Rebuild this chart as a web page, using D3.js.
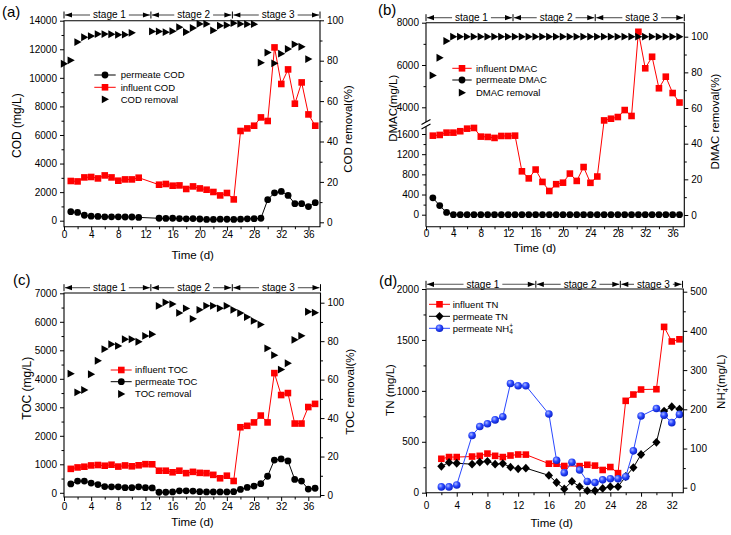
<!DOCTYPE html>
<html><head><meta charset="utf-8">
<script src="https://cdn.jsdelivr.net/npm/d3@7"></script>
<style>
body{margin:0;background:#fff;}
svg{display:block;font-family:"Liberation Sans",Arial,Helvetica,sans-serif;}
</style></head><body>
<svg id="chart" width="731" height="535"></svg>
<script>
// ---------------- DATA ----------------
// (a) COD
const codDays = [1,2,3,4,5,6,7,8,9,10,11,14,15,16,17,18,19,20,21,22,23,24,25,26,27,28,29,30,31,32,33,34,35,36,37];
const codInfluent = [2780,2750,3030,3060,2960,3170,3030,2800,2890,2890,3010,2520,2570,2450,2470,2220,2400,2260,2170,2010,1770,1940,1490,6280,6460,6650,7230,6980,12130,9570,10590,8190,9680,7440,6650];
const codPermeate = [630,580,380,320,300,270,270,270,260,260,230,170,160,170,150,130,150,120,90,90,110,100,90,110,130,140,170,1470,1950,2050,1770,1190,1190,990,1260];
const codRemovalDays = [0,1,2,3,4,5,6,7,8,9,10,13,14,15,16,17,18,19,20,21,22,23,24,25,26,27,28,29,30,31,32,33,34,35,36];
const codRemoval = [78.5,80.2,89.2,91.6,92.2,93.2,93.2,93.1,92.8,92.9,93.8,94.5,94.5,94.1,94.6,96.6,94.2,96.2,98.2,98.2,95.0,97.3,97.6,98.6,98.2,98.1,98.1,79.0,84.0,78.7,83.5,85.8,88.1,86.9,80.8];

// (b) DMAC
const dmacDays = [1,2,3,4,5,6,7,8,9,10,11,12,13,14,15,16,17,18,19,20,21,22,23,24,25,26,27,28,29,30,31,32,33,34,35,36,37];
const dmacInfluent = [1567,1581,1627,1627,1655,1706,1720,1548,1542,1522,1561,1561,1567,860,720,895,650,470,605,635,815,670,945,632,757,3380,3460,3540,3870,3590,7570,5845,6390,4900,5447,4675,4225];
const dmacPermeate = [335,180,45,0,0,0,0,0,0,0,0,0,0,0,0,0,0,0,0,0,0,0,0,0,0,0,0,0,0,0,0,0,0,0,0,0,0];
const dmacRemoval = [78.3,88.2,97.6,100,100,100,100,100,100,100,100,100,100,100,100,100,100,100,100,100,100,100,100,100,100,100,100,100,100,100,100,100,100,100,100,100,100];

// (c) TOC
const tocDays = [1,2,3,4,5,6,7,8,9,10,11,12,13,14,15,16,17,18,19,20,21,22,23,24,25,26,27,28,29,30,31,32,33,34,35,36,37];
const tocInfluent = [840,890,915,960,975,950,985,920,960,930,965,1005,1000,775,775,720,775,690,735,700,690,630,510,600,415,2300,2350,2470,2710,2470,4200,3430,3500,2430,2430,3010,3120];
const tocPermeate = [310,410,410,340,290,220,210,210,180,180,210,180,170,20,20,30,70,70,60,40,30,30,30,30,40,120,190,235,320,580,1150,1190,1120,470,410,130,160];
const tocRemoval = [63.1,53.4,54.6,62.8,69.8,75.9,78.4,77.5,81.0,81.0,79.7,82.7,83.6,98.3,100.2,99.3,94.7,97.0,91.6,96.3,98.4,98.4,97.1,98.3,96.3,94.6,92.5,90.5,88.6,76.3,72.7,65.2,68.5,80.7,82.8,95.3,94.8];

// (d) TN / NH4+
const tnInfDays = [2,3,4,6,7,8,9,10,11,12,13,16,17,18,20,21,22,23,24,25,26,27,28,30,31,32,33];
const tnInfluent = [333,350,350,355,362,384,362,350,365,375,374,285,285,262,261,274,266,223,252,192,902,964,1013,1016,1628,1485,1506];
const tnDays = [2,3,4,6,7,8,9,10,11,12,13,16,17,18,19,20,21,22,23,24,25,26,27,28,30,31,32,33];
const tnPermeate = [259,297,289,280,300,308,280,286,251,234,241,170,100,37,111,59,20,20,42,59,59,159,247,375,495,801,844,821];
const nh4Permeate = [2,2,7,133,156,163,173,181,266,260,260,188,70,38,65,45,16,13,20,23,23,28,94,183,202,185,166,187];

// tick values
const xTicks37 = [0,4,8,12,16,20,24,28,32,36];
const xMinor37 = [2,6,10,14,18,22,26,30,34];
const xTicks33 = [0,4,8,12,16,20,24,28,32];
const xMinor33 = [2,6,10,14,18,22,26,30];
const codTicks = [0,2000,4000,6000,8000,10000,12000,14000];
const codMinor = [1000,3000,5000,7000,9000,11000,13000];
const pctTicks = [0,20,40,60,80,100];
const pctMinor = [10,30,50,70,90];
const dmacLowTicks = [0,400,800,1200,1600];
const dmacLowMinor = [200,600,1000,1400];
const dmacHighTicks = [4000,6000,8000];
const dmacHighMinor = [5000,7000];
const tocTicks = [0,1000,2000,3000,4000,5000,6000,7000];
const tocMinor = [500,1500,2500,3500,4500,5500,6500];
const tnTicks = [0,500,1000,1500,2000];
const tnMinor = [250,750,1250,1750];
const nh4Ticks = [0,100,200,300,400,500];
const nh4Minor = [50,150,250,350,450];
const stageNames = ["stage 1","stage 2","stage 3"];
const stagesA = [0,12.8,24.8,37.7];
const stagesB = [0,12.7,24.7,37.7];
const stagesC = [0,12.8,24.8,37.8];
const stagesD = [0,14.3,25.3,33.4];

// ---------------- HELPERS ----------------
const FONT = '"Liberation Sans", Arial, Helvetica, sans-serif';
const svg = d3.select('#chart');
const defs = svg.append('defs');
const grad = defs.append('radialGradient').attr('id','blueBall').attr('cx','38%').attr('cy','35%').attr('r','65%');
grad.append('stop').attr('offset','0%').attr('stop-color','#aab8ff');
grad.append('stop').attr('offset','50%').attr('stop-color','#2a48ff');
grad.append('stop').attr('offset','100%').attr('stop-color','#0c22c8');

const RED = '#ff0000', BLUE = '#2a48ff';
const TICK_FS = 10;

function frame(g, b, skipLeft) {
  const d = skipLeft ? `M${b.l},${b.t}H${b.r}V${b.b}H${b.l}` : `M${b.l},${b.t}H${b.r}V${b.b}H${b.l}Z`;
  g.append('path').attr('d', d).attr('fill','none').attr('stroke','#000').attr('stroke-width',1.1);
}
function axis(g, kind, scale, pos, majors, minors, labelOffset) {
  const gen = kind==='bottom'?d3.axisBottom:kind==='left'?d3.axisLeft:d3.axisRight;
  const tr = kind==='bottom'?`translate(0,${pos})`:`translate(${pos},0)`;
  const gMaj = g.append('g').attr('transform',tr).call(gen(scale).tickValues(majors).tickSize(4).tickPadding(3).tickFormat(d3.format('d')));
  const gMin = g.append('g').attr('transform',tr).call(gen(scale).tickValues(minors).tickSize(2.5).tickFormat(''));
  [gMaj,gMin].forEach(s=>{
    s.select('.domain').remove();
    s.attr('font-family',FONT).attr('font-size',TICK_FS);
    s.selectAll('line').attr('stroke','#000').attr('stroke-width',1);
    s.selectAll('text').attr('fill','#000');
  });
  if (kind==='bottom' && labelOffset!=null) gMaj.selectAll('text').attr('y',labelOffset).attr('dy','0.36em');
  return gMaj;
}
function seriesLine(g, xs, yf, days, vals, color) {
  g.append('path').datum(days.map((d,i)=>[d,vals[i]]))
    .attr('fill','none').attr('stroke',color).attr('stroke-width',1)
    .attr('d', d3.line().x(d=>xs(d[0])).y(d=>yf(d[1])));
}
const SHAPES = {
  square: 'M-3.3,-3.3H3.3V3.3H-3.3Z',
  tri: 'M-3.2,-3.9L4,0L-3.2,3.9Z',
  diamond: 'M0,-4.4L4.1,0L0,4.4L-4.1,0Z'
};
function drawMarker(g, x, y, shape, fill) {
  if (shape==='circle') g.append('circle').attr('cx',x).attr('cy',y).attr('r',3.4).attr('fill',fill);
  else if (shape==='ball') g.append('circle').attr('cx',x).attr('cy',y).attr('r',3.8).attr('fill','url(#blueBall)');
  else g.append('path').attr('d',SHAPES[shape]).attr('transform',`translate(${x},${y})`).attr('fill',fill);
}
function seriesMarkers(g, xs, yf, days, vals, shape, fill) {
  days.forEach((d,i)=>drawMarker(g, xs(d), yf(vals[i]), shape, fill));
}
function legendRow(g, lx0, lx1, mx, tx, y, color, shape, fill, label, fs, noLine) {
  if (!noLine) g.append('line').attr('x1',lx0).attr('x2',lx1).attr('y1',y).attr('y2',y).attr('stroke',color).attr('stroke-width',1);
  drawMarker(g, mx, y, shape, fill);
  const t = g.append('text').attr('x',tx).attr('y',y).attr('dy','0.35em').attr('font-size',fs).attr('fill','#000');
  if (typeof label === 'string') t.text(label);
  else label(t);
}
function stageBar(g, xs, y, bounds, names) {
  bounds.forEach(b=>{
    g.append('line').attr('x1',xs(b)).attr('x2',xs(b)).attr('y1',y-3.5).attr('y2',y+3.5).attr('stroke','#000').attr('stroke-width',1);
  });
  for (let i=0;i<names.length;i++){
    const x0 = xs(bounds[i]), x1 = xs(bounds[i+1]);
    const mid = (x0+x1)/2 + 2;
    const t = g.append('text').attr('x',mid).attr('y',y).attr('dy','0.33em').attr('text-anchor','middle')
      .attr('font-size',10).attr('fill','#000').text(names[i]);
    const w = t.node().getComputedTextLength();
    g.append('line').attr('x1',x0+1).attr('x2',mid-w/2-3).attr('y1',y).attr('y2',y).attr('stroke','#555').attr('stroke-width',1.1);
    g.append('line').attr('x1',mid+w/2+3).attr('x2',x1-1).attr('y1',y).attr('y2',y).attr('stroke','#555').attr('stroke-width',1.1);
    g.append('path').attr('d',`M${x0+1},${y}L${x0+8},${y-2.6}L${x0+8},${y+2.6}Z`).attr('fill','#000');
    g.append('path').attr('d',`M${x1-1},${y}L${x1-8},${y-2.6}L${x1-8},${y+2.6}Z`).attr('fill','#000');
  }
}
function vTitle(g, x, y, fs, label) {
  const t = g.append('text').attr('transform',`translate(${x},${y}) rotate(-90)`).attr('text-anchor','middle')
    .attr('dy','0.35em').attr('font-size',fs).attr('fill','#000');
  if (typeof label === 'string') t.text(label); else label(t);
}
function hTitle(g, x, y, fs, label) {
  g.append('text').attr('x',x).attr('y',y).attr('dy','0.35em').attr('text-anchor','middle').attr('font-size',fs).attr('fill','#000').text(label);
}
function panelLabel(g, x, y, label) {
  g.append('text').attr('x',x).attr('y',y).attr('font-size',15).attr('fill','#000').text(label);
}

// ---------------- PANEL (a) ----------------
{
  const g = svg.append('g');
  const B = {l:64, r:320, t:20.7, b:226.7};
  const x = d3.scaleLinear().domain([0,37.7]).range([B.l,B.r]);
  const y = d3.scaleLinear().domain([0,14000]).range([220.7,20.7]);
  const y2 = d3.scaleLinear().domain([0,100]).range([222.3,20.3]);
  axis(g,'bottom',x,B.b,xTicks37,xMinor37,8);
  axis(g,'left',y,B.l,codTicks,codMinor);
  axis(g,'right',y2,B.r,pctTicks,pctMinor);
  seriesLine(g,x,y,codDays,codPermeate,'#000');
  seriesLine(g,x,y,codDays,codInfluent,RED);
  seriesMarkers(g,x,y,codDays,codPermeate,'circle','#000');
  seriesMarkers(g,x,y,codDays,codInfluent,'square',RED);
  seriesMarkers(g,x,y2,codRemovalDays,codRemoval,'tri','#000');
  frame(g,B);
  stageBar(g,x,15,stagesA,stageNames);
  legendRow(g,94.3,115.7,105,120.7,75,'#000','circle','#000','permeate COD',9.5);
  legendRow(g,94.3,115.7,105,120.7,87.3,RED,'square',RED,'influent COD',9.5);
  legendRow(g,94.3,115.7,105,120.7,99.3,'#000','tri','#000','COD removal',9.5,true);
  hTitle(g,192.7,255,11.5,'Time (d)');
  vTitle(g,17,125.7,12,'COD (mg/L)');
  vTitle(g,347.7,129,11.5,'COD removal(%)');
  panelLabel(g,2,17,'(a)');
}

// ---------------- PANEL (b) ----------------
{
  const g = svg.append('g');
  const B = {l:426, r:684.3, t:22.7, b:226.7};
  const x = d3.scaleLinear().domain([0,37.7]).range([B.l,B.r]);
  const yLo = d3.scaleLinear().domain([0,1600]).range([214.7,134]);
  const yUp = d3.scaleLinear().domain([4000,8000]).range([107.3,22.7]);
  const y = v => v >= 2500 ? yUp(v) : yLo(v);
  const y2 = d3.scaleLinear().domain([0,100]).range([215,36.7]);
  axis(g,'bottom',x,B.b,xTicks37,xMinor37,6.5);
  axis(g,'left',yLo,B.l,dmacLowTicks,dmacLowMinor);
  axis(g,'left',yUp,B.l,dmacHighTicks,dmacHighMinor);
  axis(g,'right',y2,B.r,pctTicks,pctMinor);
  seriesLine(g,x,y,dmacDays,dmacInfluent,RED);
  seriesLine(g,x,y,dmacDays,dmacPermeate,'#000');
  seriesMarkers(g,x,y,dmacDays,dmacInfluent,'square',RED);
  seriesMarkers(g,x,y,dmacDays,dmacPermeate,'circle','#000');
  seriesMarkers(g,x,y2,dmacDays,dmacRemoval,'tri','#000');
  frame(g,B,true);
  // broken left axis
  g.append('line').attr('x1',B.l).attr('x2',B.l).attr('y1',B.t).attr('y2',122).attr('stroke','#000').attr('stroke-width',1.1);
  g.append('line').attr('x1',B.l).attr('x2',B.l).attr('y1',126.5).attr('y2',B.b).attr('stroke','#000').attr('stroke-width',1.1);
  [122,126.5].forEach(v=>{
    g.append('line').attr('x1',B.l-4.5).attr('x2',B.l+4.5).attr('y1',v+2.6).attr('y2',v-2.6).attr('stroke','#000').attr('stroke-width',1.1);
  });
  stageBar(g,x,17.7,stagesB,stageNames);
  legendRow(g,452.3,471.7,462,476,68.3,RED,'square',RED,'influent DMAC',9.5);
  legendRow(g,452.3,471.7,462,476,80,'#000','circle','#000','permeate DMAC',9.5);
  legendRow(g,452.3,471.7,462,476,92.7,'#000','tri','#000','DMAC removal',9.5,true);
  hTitle(g,535,248.3,11.5,'Time (d)');
  vTitle(g,393.3,108.3,11.5,'DMAC(mg/L)');
  vTitle(g,715,121.7,11.5,'DMAC removal(%)');
  panelLabel(g,378,15,'(b)');
}

// ---------------- PANEL (c) ----------------
{
  const g = svg.append('g');
  const B = {l:64, r:320.5, t:293, b:497};
  const x = d3.scaleLinear().domain([0,37.8]).range([B.l,B.r]);
  const y = d3.scaleLinear().domain([0,7000]).range([492.8,293.3]);
  const y2 = d3.scaleLinear().domain([0,100]).range([495,302.7]);
  axis(g,'bottom',x,B.b,xTicks37,xMinor37,9.7);
  axis(g,'left',y,B.l,tocTicks,tocMinor);
  axis(g,'right',y2,B.r,pctTicks,pctMinor);
  seriesLine(g,x,y,tocDays,tocPermeate,'#000');
  seriesLine(g,x,y,tocDays,tocInfluent,RED);
  seriesMarkers(g,x,y,tocDays,tocPermeate,'circle','#000');
  seriesMarkers(g,x,y,tocDays,tocInfluent,'square',RED);
  seriesMarkers(g,x,y2,tocDays,tocRemoval,'tri','#000');
  frame(g,B);
  stageBar(g,x,287.7,stagesC,stageNames);
  legendRow(g,110.7,131.7,121.3,135,370,RED,'square',RED,'influent TOC',9.5);
  legendRow(g,110.7,131.7,121.3,135,381.7,'#000','circle','#000','permeate TOC',9.5);
  legendRow(g,110.7,131.7,121.3,135,394,'#000','tri','#000','TOC removal',9.5,true);
  hTitle(g,192.5,522,11.5,'Time (d)');
  vTitle(g,26.7,388.3,12,'TOC (mg/L)');
  vTitle(g,350,391.7,11.5,'TOC removal(%)');
  panelLabel(g,13,285,'(c)');
}

// ---------------- PANEL (d) ----------------
{
  const g = svg.append('g');
  const B = {l:426, r:683.3, t:289, b:492.7};
  const x = d3.scaleLinear().domain([0,33.5]).range([B.l,B.r]);
  const y = d3.scaleLinear().domain([0,2000]).range([492.7,289]);
  const y2 = d3.scaleLinear().domain([0,500]).range([487.7,291.7]);
  axis(g,'bottom',x,B.b,xTicks33,xMinor33,12.3);
  axis(g,'left',y,B.l,tnTicks,tnMinor);
  axis(g,'right',y2,B.r,nh4Ticks,nh4Minor);
  seriesLine(g,x,y,tnInfDays,tnInfluent,RED);
  seriesLine(g,x,y,tnDays,tnPermeate,'#000');
  seriesLine(g,x,y2,tnDays,nh4Permeate,BLUE);
  seriesMarkers(g,x,y,tnInfDays,tnInfluent,'square',RED);
  seriesMarkers(g,x,y,tnDays,tnPermeate,'diamond','#000');
  seriesMarkers(g,x,y2,tnDays,nh4Permeate,'ball',BLUE);
  frame(g,B);
  stageBar(g,x,284.3,stagesD,stageNames);
  legendRow(g,429,450,439.5,452.7,304.3,RED,'square',RED,'influent TN',9.5);
  legendRow(g,429,450,439.5,452.7,316.3,'#000','diamond','#000','permeate TN',9.5);
  legendRow(g,429,450,439.5,452.7,328.3,BLUE,'ball',BLUE,t=>{
    t.append('tspan').text('permeate NH');
    t.append('tspan').attr('dy',2.5).attr('font-size',6.5).text('4');
    t.append('tspan').attr('dy',-6).attr('dx',-3.5).attr('font-size',6.5).text('+');
  },9.5);
  hTitle(g,551.7,523.3,11.5,'Time (d)');
  vTitle(g,390,390,11.5,'TN (mg/L)');
  vTitle(g,721,381.7,11.5,t=>{
    t.append('tspan').text('NH');
    t.append('tspan').attr('dy',2.8).attr('font-size',7.5).text('4');
    t.append('tspan').attr('dy',-6.5).attr('dx',-4).attr('font-size',7.5).text('+');
    t.append('tspan').attr('dy',3.7).text('(mg/L)');
  });
  panelLabel(g,379,286,'(d)');
}
</script>
</body></html>
